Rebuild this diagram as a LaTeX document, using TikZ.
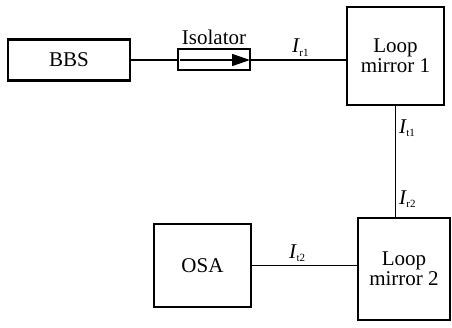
\documentclass[tikz,border=0pt]{standalone}
\usepackage{fontspec}
\setmainfont{Liberation Serif}
\usetikzlibrary{arrows.meta,positioning}
\newcommand{\intens}[1]{\textit{I}\kern-0.5pt\raisebox{-3.5pt}{\fontsize{11}{11}\selectfont #1}}

\begin{document}
\begin{tikzpicture}[
  x=1pt,y=1pt,
  font=\fontsize{21}{20}\selectfont,
  optbox/.style={draw,line width=2.4pt,align=center,inner sep=0pt},
  link/.style={line width=1.1pt},
  lbl/.style={inner sep=3pt}
]
\useasboundingbox (0,0) rectangle (452,327);
\node[optbox,minimum width=122pt,minimum height=41pt] (bbs) at (69,267) {BBS};
\node[optbox,line width=2pt,minimum width=72pt,minimum height=21pt] (iso) at (214,267) {};
\node[above=0pt of iso] (isotxt) {Isolator};
\node[optbox,minimum width=97pt,minimum height=98pt] (lm1) at (395.5,271) {Loop\\mirror 1};
\node[optbox,minimum width=92pt,minimum height=102pt] (lm2) at (404,58) {Loop\\mirror 2};
\node[optbox,minimum width=97pt,minimum height=83pt] (osa) at (202.5,61.5) {OSA};
\draw[line width=1.6pt,-{Triangle[length=18pt,width=12pt]}] ([xshift=3pt]iso.west) -- ([xshift=-1pt]iso.east);
\draw[link] (bbs.east) -- (iso.west);
\draw[link] (iso.east) -- node[lbl,above,pos=0.52] (ir1) {\intens{r1}} (iso.east -| lm1.west);
\draw[link] (lm1.south) -- node[lbl,right,pos=0.2] (it1) {\intens{t1}}
  node[lbl,right,pos=0.84] (ir2) {\intens{r2}} (lm1.south |- lm2.north);
\draw[link] (osa.east) -- node[lbl,above,pos=0.43] (it2) {\intens{t2}} (osa.east -| lm2.west);
\end{tikzpicture}
\end{document}
